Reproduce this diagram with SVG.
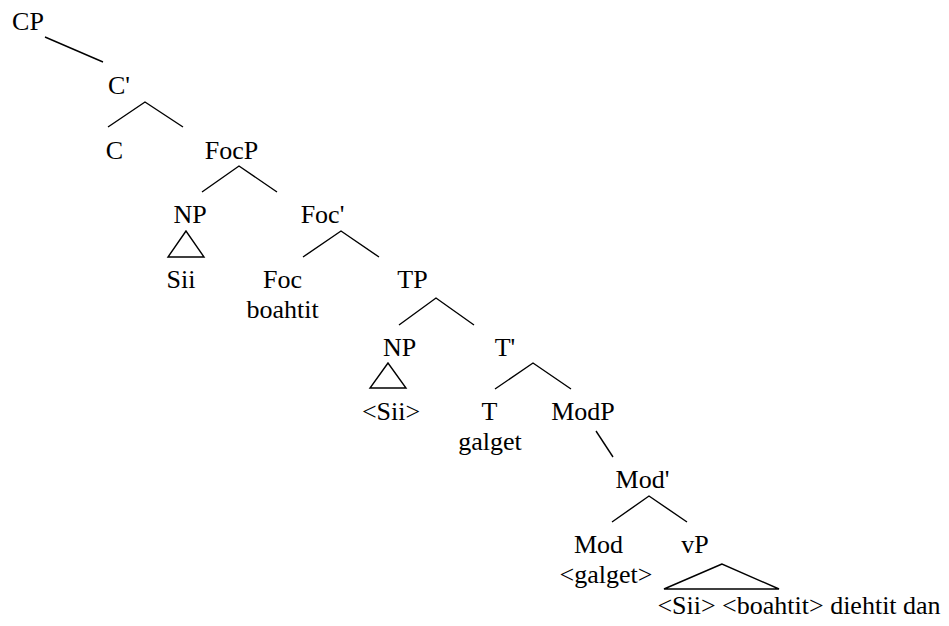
<svg xmlns="http://www.w3.org/2000/svg" width="949" height="626" viewBox="0 0 949 626">
<style>
text { font-family: 'Liberation Serif', 'Times New Roman', Times, serif; font-size: 26px; fill: #000; text-anchor: middle; }
.e { stroke: #000; stroke-width: 1.4; fill: none; }
</style>
<rect width="949" height="626" fill="#fff"/>
<g id="connectors">
<line class="e" x1="45" y1="37" x2="103" y2="62"/>
<polyline class="e" points="108,127 145,102 183,127"/>
<polyline class="e" points="202,192 239,166 277,192"/>
<polygon class="e" points="186,231 168,257 204,257"/>
<polyline class="e" points="303,257 341,231 379,257"/>
<polyline class="e" points="399,325 436,298 474,325"/>
<polygon class="e" points="388,363 370,388 406,388"/>
<polyline class="e" points="495,389 533,363 571,389"/>
<line class="e" x1="596" y1="431" x2="613" y2="457"/>
<polyline class="e" points="612,522 649,496 687,522"/>
<polygon class="e" points="722,564 664,589 779,589"/>
</g>
<g id="n-CP"><text x="28" y="30">CP</text></g>
<g id="n-Cbar"><text x="119" y="94">C'</text></g>
<g id="n-C"><text x="114.5" y="159">C</text></g>
<g id="n-FocP"><text x="231.5" y="159">FocP</text></g>
<g id="n-NP1"><text x="190" y="223">NP</text></g>
<g id="n-Sii"><text x="181" y="288">Sii</text></g>
<g id="n-Focbar"><text x="322.5" y="223">Foc'</text></g>
<g id="n-Foc"><text x="282.5" y="288">Foc</text><text x="282.5" y="318">boahtit</text></g>
<g id="n-TP"><text x="412.5" y="288">TP</text></g>
<g id="n-NP2"><text x="399.5" y="356">NP</text></g>
<g id="n-Sii2"><text x="391" y="420">&lt;Sii&gt;</text></g>
<g id="n-Tbar"><text x="505" y="356">T'</text></g>
<g id="n-T"><text x="489.5" y="420">T</text><text x="490" y="450">galget</text></g>
<g id="n-ModP"><text x="583" y="420">ModP</text></g>
<g id="n-Modbar"><text x="642.5" y="488">Mod'</text></g>
<g id="n-Mod"><text x="598.5" y="553">Mod</text><text x="606" y="583">&lt;galget&gt;</text></g>
<g id="n-vP"><text x="695" y="553">vP</text></g>
<g id="n-vPcontent"><text x="799" y="614">&lt;Sii&gt; &lt;boahtit&gt; diehtit dan</text></g>
</svg>
